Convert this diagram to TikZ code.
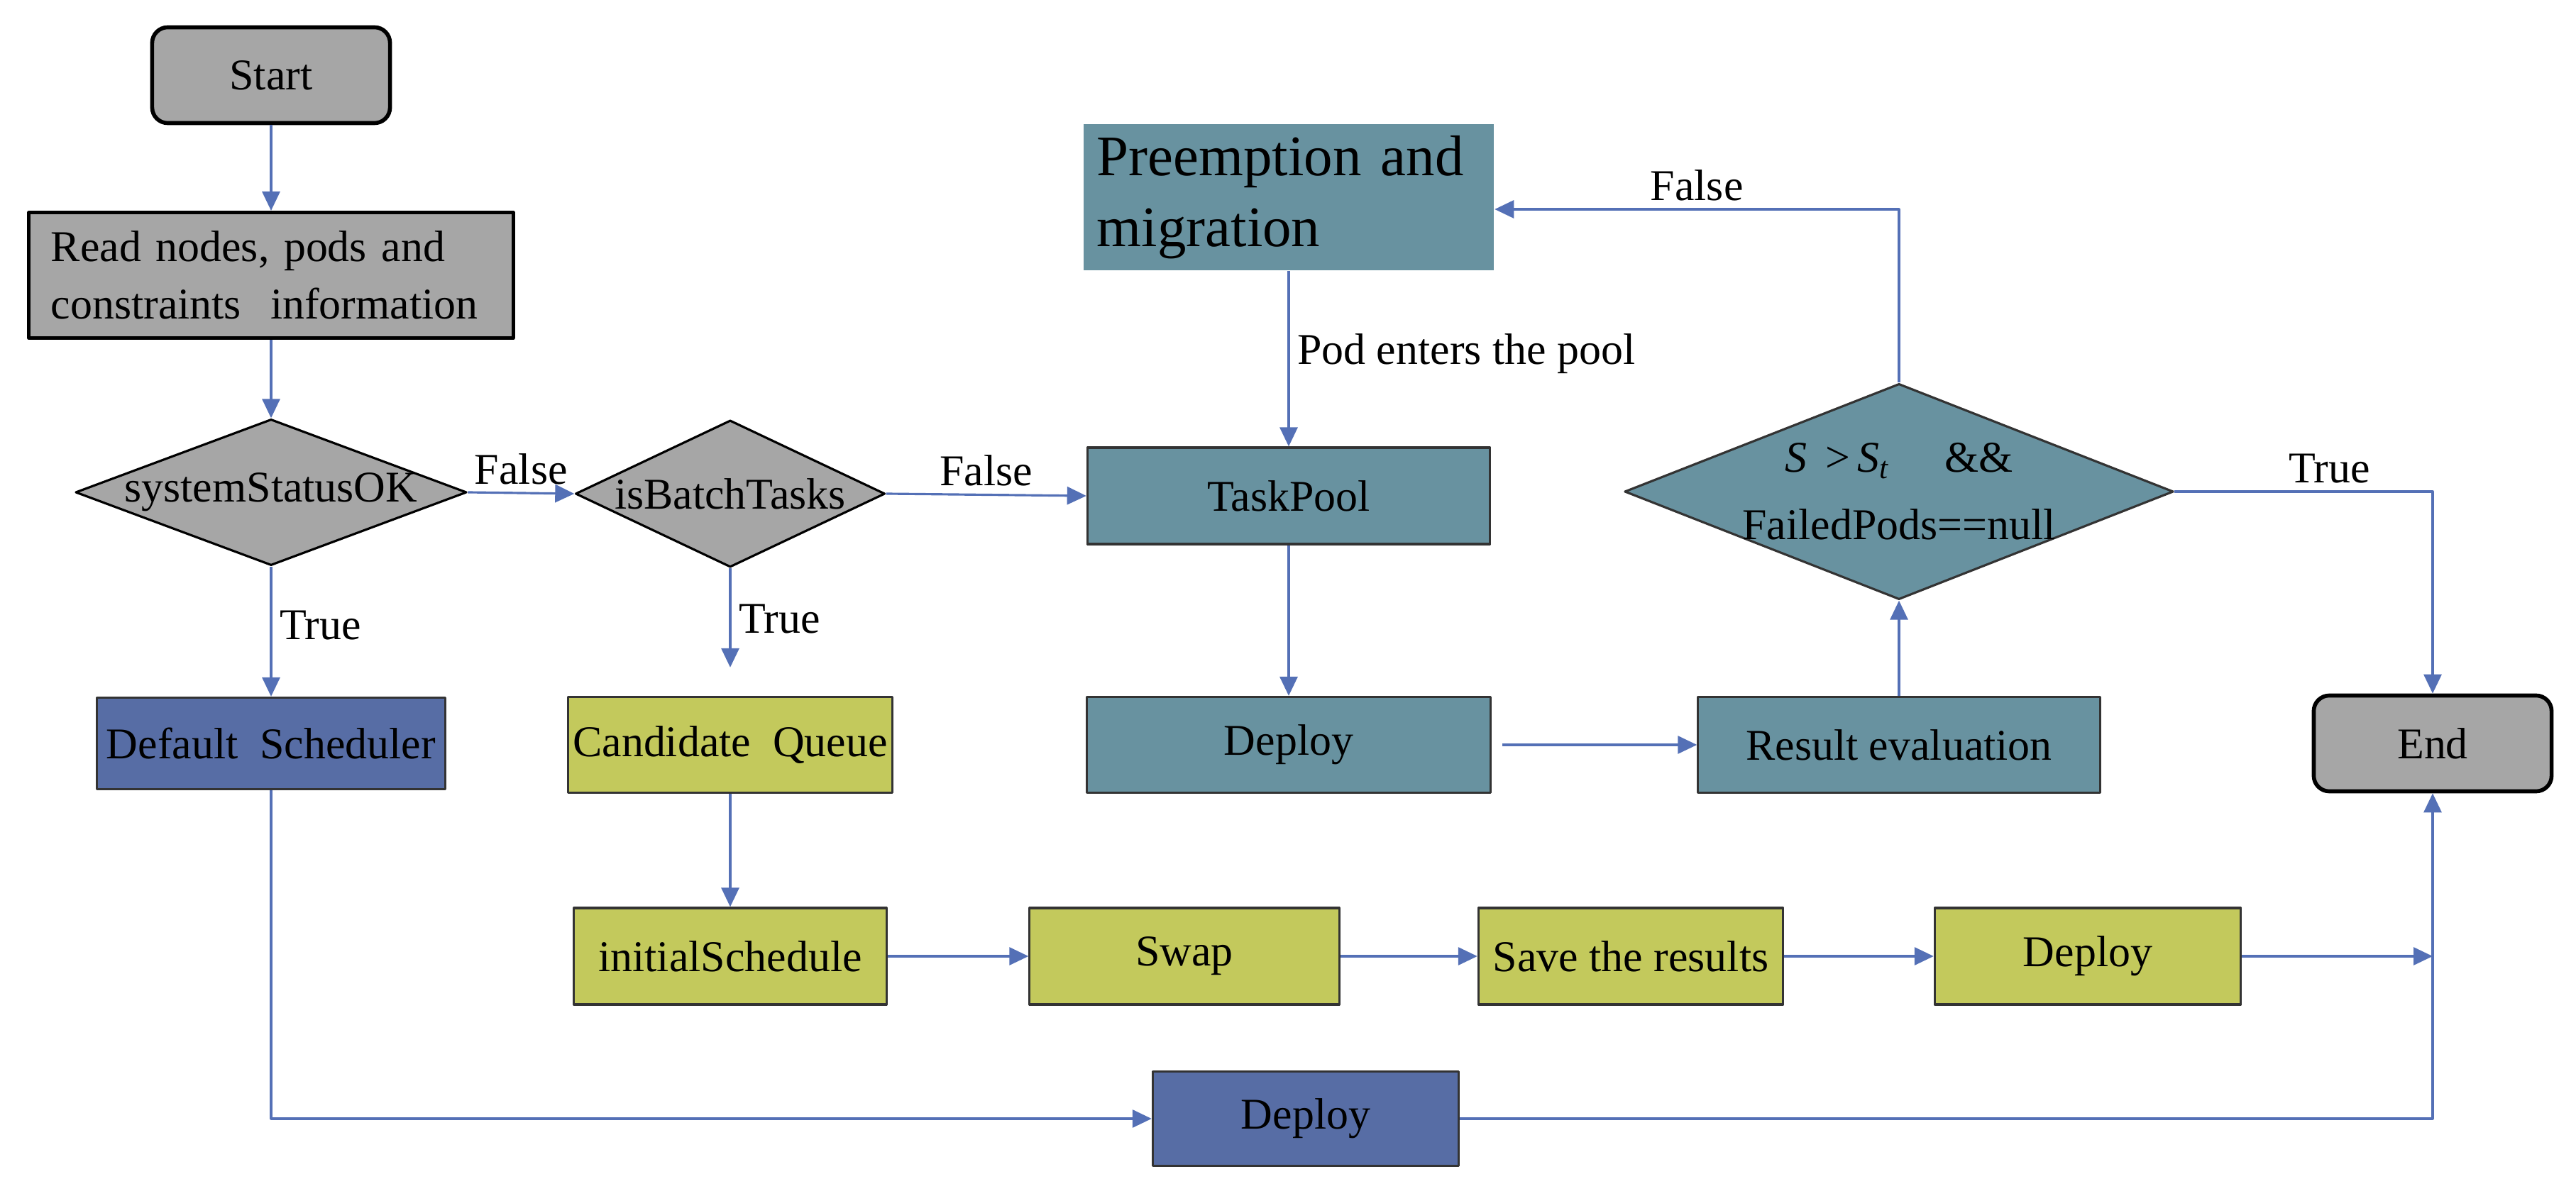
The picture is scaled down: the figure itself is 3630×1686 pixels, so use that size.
\documentclass[tikz,border=0pt]{standalone}
\usepackage{fontspec}
\setmainfont{Liberation Serif}
\usetikzlibrary{shapes.geometric,arrows.meta}
\definecolor{grayfill}{RGB}{166,166,166}
\definecolor{tealfill}{RGB}{104,146,160}
\definecolor{olivefill}{RGB}{195,201,92}
\definecolor{bluefill}{RGB}{87,109,165}
\definecolor{linkblue}{RGB}{84,112,182}
\begin{document}
\begin{tikzpicture}[x=0.01cm, y=-0.01cm, font=\fontsize{17.6}{22}\selectfont,
    >={Triangle[length=0.27cm,width=0.25cm]}, line join=round,
    box/.style={draw=black!80, line width=0.9pt, minimum height=1.35cm, inner sep=2pt, align=center},
    term/.style={box, draw=black, line width=1.6pt, fill=grayfill, rounded corners=0.22cm, minimum width=3.35cm},
    graybox/.style={box, draw=black, line width=1.4pt, fill=grayfill},
    tealbox/.style={box, fill=tealfill},
    olivebox/.style={box, fill=olivefill},
    bluebox/.style={box, fill=bluefill},
    decide/.style={diamond, draw=black!80, line width=0.9pt, inner sep=0pt},
    link/.style={draw=linkblue, line width=0.9pt, ->},
    lbl/.style={inner sep=3pt}]
    \useasboundingbox (0,0) rectangle (3630,1686);
    % left column
    \node[term] (start) at (382,106) {Start};
    \node[graybox, minimum width=6.82cm, minimum height=1.77cm, align=left, inner xsep=0.3cm, text width=6.2cm] (read) at (382,388)
        {Read nodes, pods and\\[1pt] constraints\ \ information};
    \node[decide, fill=grayfill, draw=black, minimum width=5.51cm, minimum height=2.06cm, label=center:systemStatusOK] (ok) at (382,694) {};
    \node[bluebox, minimum width=4.91cm, minimum height=1.29cm] (defsched) at (382,1048) {Default\ \ Scheduler};
    % batch branch
    \node[decide, fill=grayfill, draw=black, minimum width=4.36cm, minimum height=2.07cm, label=center:isBatchTasks] (batch) at (1029,696) {};
    \node[olivebox, minimum width=4.4cm] (cand) at (1029,1050) {Candidate\ \ Queue};
    \node[olivebox, minimum width=4.4cm, minimum height=1.36cm] (init) at (1029,1348) {initialSchedule};
    \node[olivebox, minimum width=4.36cm, minimum height=1.36cm] (swap) at (1669,1348) {Swap};
    \node[olivebox, minimum width=4.29cm, minimum height=1.36cm] (save) at (2298,1348) {Save the results};
    \node[olivebox, minimum width=4.31cm, minimum height=1.36cm] (deployb) at (2942,1348) {Deploy};
    \node[bluebox, minimum width=4.31cm, minimum height=1.33cm] (deployc) at (1840,1577) {Deploy};
    % task pool
    \node[tealbox, draw=none, minimum width=5.77cm, minimum height=2.05cm, align=left, text width=5.4cm,
        font=\fontsize{23}{28.5}\selectfont] (preempt) at (1816,278) {Preemption and\\migration};
    \node[tealbox, minimum width=5.67cm, minimum height=1.36cm] (pool) at (1816,699) {TaskPool};
    \node[tealbox, minimum width=5.68cm] (deploya) at (1816,1050) {Deploy};
    \node[tealbox, minimum width=5.66cm] (result) at (2676,1050) {Result evaluation};
    \node[decide, fill=tealfill, minimum width=7.73cm, minimum height=3.04cm,
        label={[align=center]center:{\textit{S} \,>\,\textit{S}\textsubscript{\textit{t}}\quad\ \&\&\\[5pt]FailedPods==null}}] (check) at (2676,693) {};
    \node[term] (endn) at (3428,1048) {End};
    \coordinate (join) at (endn.south |- deployb.east);
    % connectors
    \draw[link] (start) -- (read);
    \draw[link] (read) -- (ok);
    \draw[link] (ok.east) -- node[lbl, above] (f1) {False} (batch.west);
    \draw[link] (ok.south) -- node[lbl, right, pos=0.45] (t1) {True} (defsched.north);
    \draw[link, shorten >=0.4cm] (batch.south) -- node[lbl, right, pos=0.4] (t2) {True} (cand.north);
    \draw[link] (batch.east) -- node[lbl, above] (f2) {False} (pool.west);
    \draw[link] (preempt) -- node[lbl, right, pos=0.47] (pe) {Pod enters the pool} (pool);
    \draw[link] (pool) -- (deploya);
    \draw[link, shorten <=0.15cm] (deploya) -- (result);
    \draw[link] (result) -- (check);
    \draw[link] (check.north) |- node[lbl, above, pos=0.75] (f3) {False} ([yshift=-0.17cm]preempt.east);
    \draw[link] (check.east) -| node[lbl, above, pos=0.3] (t3) {True} (endn.north);
    \draw[link] (cand) -- (init);
    \draw[link] (init) -- (swap);
    \draw[link] (swap) -- (save);
    \draw[link] (save) -- (deployb);
    \draw[link] (deployb) -- (join);
    \draw[link] (defsched.south) |- (deployc.west);
    \draw[link] (deployc.east) -| (endn.south);
\end{tikzpicture}
\end{document}
